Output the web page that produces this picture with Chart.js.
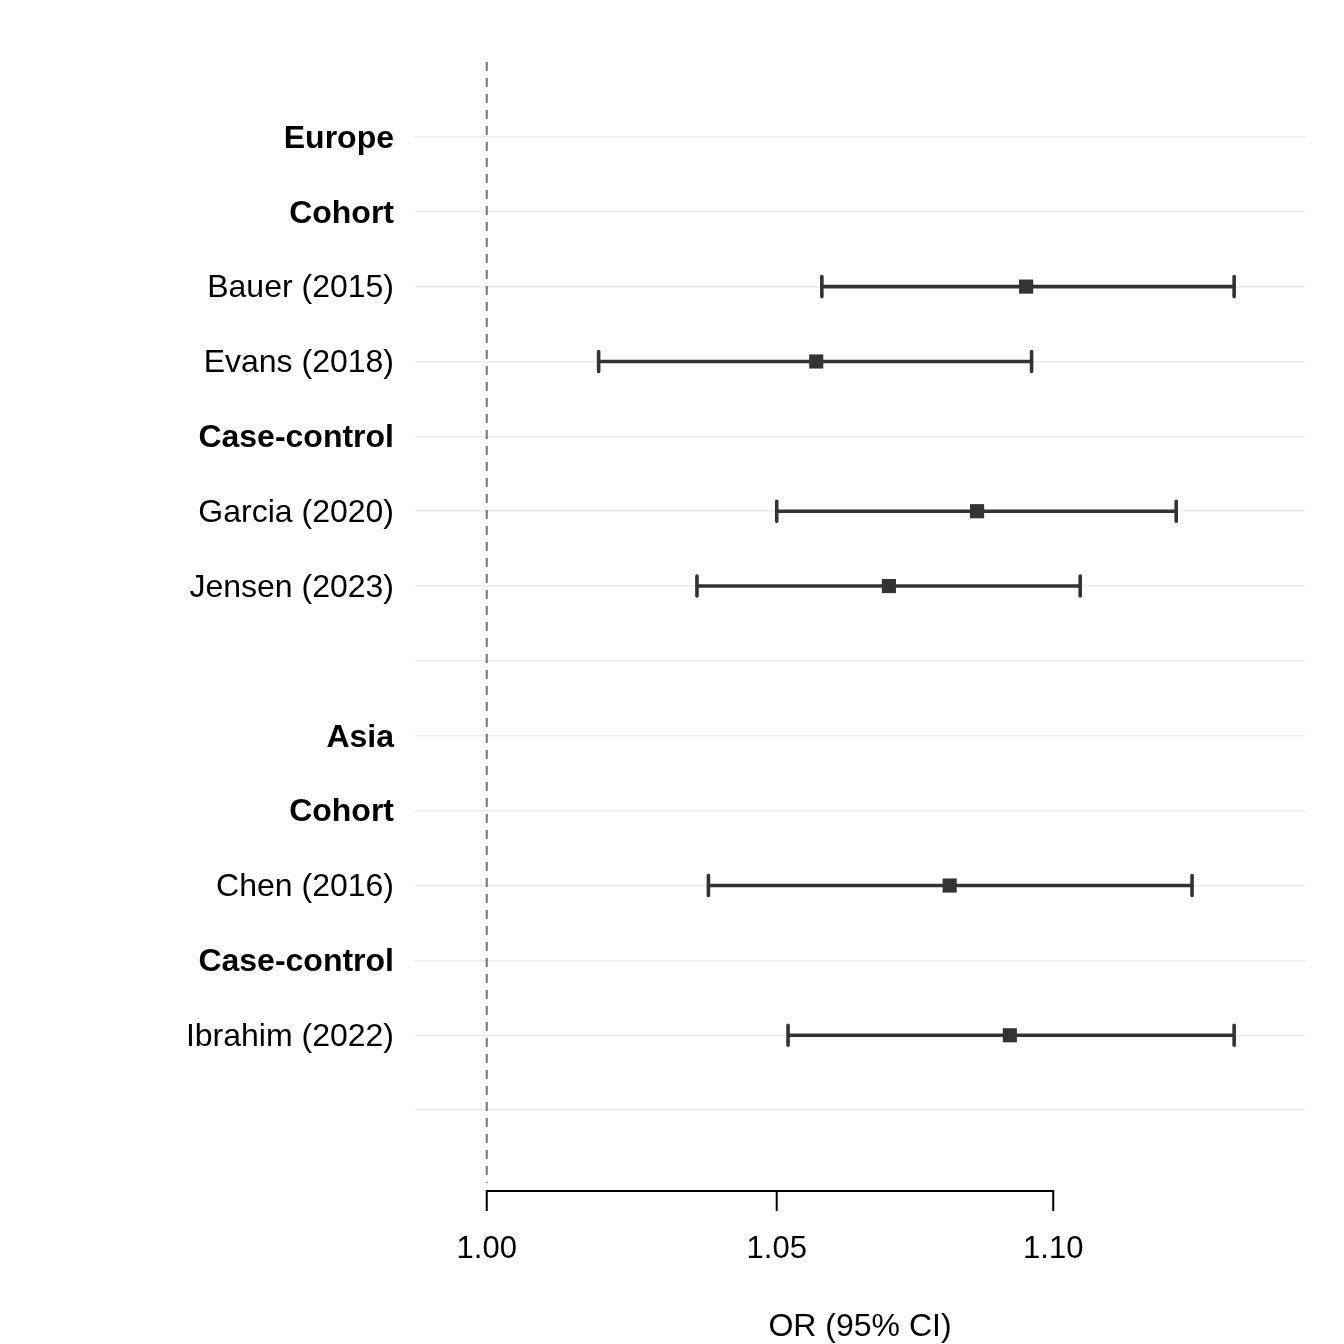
<!DOCTYPE html>
<html>
<head>
<meta charset="utf-8">
<script src="https://cdn.jsdelivr.net/npm/chart.js@4"></script>
<style>
  html, body { margin: 0; padding: 0; background: #ffffff; }
  #wrap { width: 1344px; height: 1344px; }
</style>
</head>
<body>
<div id="wrap"><canvas id="forest"></canvas></div>
<script>
// rows from top to bottom; blank strings are spacer rows
const rowLabels = [
  "Europe", "Cohort", "Bauer (2015)", "Evans (2018)", "Case-control",
  "Garcia (2020)", "Jensen (2023)", "",
  "Asia", "Cohort", "Chen (2016)", "Case-control", "Ibrahim (2022)", ""
];
const headerRows = [true, true, false, false, true, false, false, false, true, true, false, true, false, false];
const orValues = [null, null, 1.095, 1.057, null, 1.086, 1.070, null, null, null, 1.081, null, 1.092, null];
const ciLower  = [null, null, 1.058, 1.019, null, 1.050, 1.036, null, null, null, 1.038, null, 1.052, null];
const ciUpper  = [null, null, 1.134, 1.096, null, 1.123, 1.105, null, null, null, 1.126, null, 1.134, null];
const xTicks = [1.00, 1.05, 1.10];
const refValue = 1.00;

const FONT = "'Liberation Sans', Arial, Helvetica, sans-serif";
const INK = "#333333";

const points = [];
orValues.forEach(function (v, i) {
  if (v !== null) points.push({ x: v, y: i + 1, lo: ciLower[i], hi: ciUpper[i] });
});

// reference line, CI whiskers and the short x axis line
const forestPlugin = {
  id: "forestExtras",
  beforeDatasetsDraw: function (chart) {
    const ctx = chart.ctx;
    const xs = chart.scales.x;
    const ys = chart.scales.y;
    const area = chart.chartArea;

    ctx.save();
    ctx.strokeStyle = "#747474";
    ctx.lineWidth = 2;
    ctx.setLineDash([9, 7]);
    const rx = xs.getPixelForValue(refValue);
    ctx.beginPath();
    ctx.moveTo(rx, area.top);
    ctx.lineTo(rx, area.bottom - 2);
    ctx.stroke();
    ctx.restore();

    ctx.save();
    ctx.strokeStyle = INK;
    ctx.lineWidth = 3.6;
    ctx.lineCap = "round";
    points.forEach(function (p) {
      const y = ys.getPixelForValue(p.y);
      const x0 = xs.getPixelForValue(p.lo);
      const x1 = xs.getPixelForValue(p.hi);
      ctx.beginPath();
      ctx.moveTo(x0, y);
      ctx.lineTo(x1, y);
      ctx.moveTo(x0, y - 10);
      ctx.lineTo(x0, y + 10);
      ctx.moveTo(x1, y - 10);
      ctx.lineTo(x1, y + 10);
      ctx.stroke();
    });
    ctx.restore();

    ctx.save();
    ctx.strokeStyle = "#000000";
    ctx.lineWidth = 2;
    const ay = area.bottom + 6;
    const first = xs.getPixelForValue(xTicks[0]);
    const last = xs.getPixelForValue(xTicks[xTicks.length - 1]);
    ctx.beginPath();
    ctx.moveTo(first, ay);
    ctx.lineTo(last, ay);
    xTicks.forEach(function (t) {
      const tx = xs.getPixelForValue(t);
      ctx.moveTo(tx, ay - 1);
      ctx.lineTo(tx, ay + 20);
    });
    ctx.stroke();
    ctx.restore();
  }
};

new Chart(document.getElementById("forest"), {
  type: "scatter",
  data: {
    datasets: [{
      label: "OR",
      data: points,
      pointStyle: "rect",
      pointRadius: 10,
      pointHoverRadius: 10,
      backgroundColor: INK,
      borderColor: INK,
      borderWidth: 0
    }]
  },
  plugins: [forestPlugin],
  options: {
    responsive: true,
    maintainAspectRatio: false,
    animation: false,
    layout: { padding: { top: 62, right: 39, left: 0, bottom: 0 } },
    plugins: {
      legend: { display: false },
      tooltip: { enabled: false }
    },
    scales: {
      x: {
        type: "logarithmic",
        min: 0.988,
        max: 1.1476,
        afterBuildTicks: function (scale) {
          scale.ticks = xTicks.map(function (v) { return { value: v }; });
        },
        afterFit: function (scale) { scale.height = 159; },
        grid: { display: false, drawTicks: false },
        border: { display: false },
        ticks: {
          autoSkip: false,
          maxRotation: 0,
          padding: 46,
          color: "#000000",
          font: { family: FONT, size: 31 },
          callback: function (v) { return Number(v).toFixed(2); }
        },
        title: {
          display: true,
          text: "OR (95% CI)",
          color: "#000000",
          font: { family: FONT, size: 32, lineHeight: 1 },
          padding: { top: 10, bottom: 1 }
        }
      },
      y: {
        type: "linear",
        min: 0,
        max: 15,
        reverse: true,
        afterBuildTicks: function (scale) {
          scale.ticks = rowLabels.map(function (_, i) { return { value: i + 1 }; });
        },
        afterFit: function (scale) { scale.width = 415; },
        grid: { color: "#ebebeb", lineWidth: 1.5, drawTicks: false },
        border: { display: false },
        ticks: {
          autoSkip: false,
          padding: 21,
          labelOffset: 2,
          color: "#000000",
          font: function (c) {
            const i = c.index;
            return { family: FONT, size: 32, weight: headerRows[i] ? "bold" : "normal" };
          },
          callback: function (v) { return rowLabels[v - 1]; }
        }
      }
    }
  }
});
</script>
</body>
</html>
